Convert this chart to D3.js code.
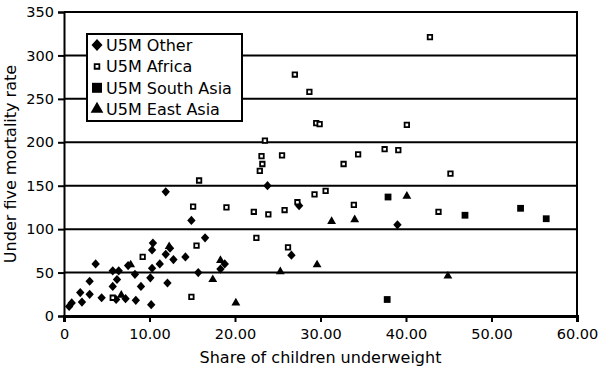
<!DOCTYPE html>
<html>
<head>
<meta charset="utf-8">
<script src="https://cdn.jsdelivr.net/npm/d3@7"></script>
<style>
  body { margin: 0; background: #fff; }
  text { font-family: "DejaVu Sans", sans-serif; fill: #000; }
</style>
</head>
<body>
<script>
// values: [share underweight, U5M rate]
const other = [
  [11.9, 143], [14.9, 110], [16.5, 90], [10.4, 84], [10.3, 76], [12.4, 78],
  [11.9, 71], [12.8, 65], [14.2, 68], [11.2, 60], [10.3, 55], [3.7, 60],
  [5.7, 52], [6.4, 52], [7.5, 58], [8.3, 48], [10.1, 44], [6.2, 42],
  [3.0, 40], [5.7, 34], [9.0, 34], [12.1, 38], [15.7, 50], [18.8, 60],
  [18.3, 54], [1.9, 27], [3.0, 25], [4.4, 21], [2.1, 16], [0.9, 15],
  [0.6, 11], [6.1, 19], [7.2, 20], [8.4, 18], [10.2, 13],
  [23.8, 150], [27.5, 127], [26.6, 70], [39.0, 105]
];
const africa = [
  [42.8, 321], [27.0, 278], [28.7, 258], [29.5, 222], [29.9, 221], [40.1, 220],
  [23.5, 202], [37.5, 192], [39.1, 191], [23.1, 184], [25.5, 185], [34.4, 186],
  [23.2, 175], [22.9, 167], [32.7, 175], [45.2, 164], [29.3, 140], [30.6, 144],
  [27.3, 131], [33.9, 128], [22.2, 120], [23.9, 117], [25.8, 122], [43.8, 120],
  [22.5, 90], [26.2, 79], [15.8, 156], [15.1, 126], [19.0, 125], [15.5, 81],
  [9.2, 68], [5.7, 21], [14.9, 22]
];
const southAsia = [
  [37.9, 137], [37.8, 19], [46.9, 116], [53.4, 124], [56.4, 112]
];
const eastAsia = [
  [12.3, 80], [7.8, 59], [18.3, 64], [17.4, 42], [20.1, 15], [6.7, 24],
  [40.1, 138], [31.3, 109], [34.0, 111], [29.6, 59], [25.3, 51], [44.9, 46]
];
const seriesNames = ["U5M Other", "U5M Africa", "U5M South Asia", "U5M East Asia"];
const xTicks = [0, 10, 20, 30, 40, 50, 60];
const yTicks = [0, 50, 100, 150, 200, 250, 300, 350];

const width = 599, height = 372;
const margin = { left: 64, right: 22, top: 12, bottom: 56 };

const svg = d3.select("body").append("svg")
  .attr("width", width)
  .attr("height", height);

const x = d3.scaleLinear().domain([0, 60]).range([margin.left, width - margin.right]);
const y = d3.scaleLinear().domain([0, 350]).range([height - margin.bottom, margin.top]);

// gridlines
svg.append("g")
  .selectAll("line")
  .data(yTicks.slice(1))
  .join("line")
  .attr("x1", x(0)).attr("x2", x(60))
  .attr("y1", d => y(d)).attr("y2", d => y(d))
  .attr("stroke", "#000").attr("stroke-width", 2);

// right border
svg.append("line")
  .attr("x1", x(60)).attr("x2", x(60))
  .attr("y1", y(350) - 1).attr("y2", y(0) + 1)
  .attr("stroke", "#000").attr("stroke-width", 2);

// axes
const xAxis = svg.append("g")
  .attr("transform", `translate(0,${y(0)})`)
  .call(d3.axisBottom(x).tickValues(xTicks).tickSize(6).tickPadding(7)
    .tickFormat(d => d === 0 ? "0" : d3.format(".2f")(d)));
const yAxis = svg.append("g")
  .attr("transform", `translate(${x(0)},0)`)
  .call(d3.axisLeft(y).tickValues(yTicks).tickSize(6).tickPadding(4));

[xAxis, yAxis].forEach(a => {
  a.select(".domain").attr("stroke", "#000").attr("stroke-width", 2);
  a.selectAll(".tick line").attr("stroke", "#000").attr("stroke-width", 2);
  a.selectAll(".tick text")
    .attr("font-size", 14.5)
    .attr("font-family", "'DejaVu Sans', sans-serif")
    .attr("fill", "#000");
});
xAxis.select(".domain").attr("stroke-width", 3);

// axis titles
svg.append("text")
  .attr("x", (x(0) + x(60)) / 2)
  .attr("y", 363)
  .attr("text-anchor", "middle")
  .attr("font-size", 16)
  .text("Share of children underweight");

svg.append("text")
  .attr("transform", `translate(16,${(y(0) + y(350)) / 2}) rotate(-90)`)
  .attr("text-anchor", "middle")
  .attr("font-size", 16)
  .text("Under five mortality rate");

// markers
const diamond = {
  draw(ctx, size) {
    const r = Math.sqrt(size) / 2;
    ctx.moveTo(0, -r * 1.1);
    ctx.lineTo(r, 0);
    ctx.lineTo(0, r * 1.1);
    ctx.lineTo(-r, 0);
    ctx.closePath();
  }
};
const shapes = [
  { sym: diamond, size: 70, legSize: 120, fill: "#000", stroke: "none" },
  { sym: d3.symbolSquare, size: 20, legSize: 22, fill: "#fff", stroke: "#000" },
  { sym: d3.symbolSquare, size: 46, legSize: 100, fill: "#000", stroke: "none" },
  { sym: d3.symbolTriangle, size: 34, legSize: 70, fill: "#000", stroke: "none" }
];
const allSeries = [other, africa, southAsia, eastAsia];

allSeries.forEach((data, i) => {
  const s = shapes[i];
  svg.append("g")
    .selectAll("path")
    .data(data)
    .join("path")
    .attr("transform", d => `translate(${x(d[0])},${y(d[1])})`)
    .attr("d", d3.symbol().type(s.sym).size(s.size))
    .attr("fill", s.fill)
    .attr("stroke", s.stroke)
    .attr("stroke-width", 1.8);
});

// legend
const legend = svg.append("g").attr("transform", "translate(87,34)");
legend.append("rect")
  .attr("width", 155).attr("height", 87)
  .attr("fill", "#fff").attr("stroke", "#000").attr("stroke-width", 2);

const row = legend.selectAll("g.item")
  .data(seriesNames)
  .join("g")
  .attr("class", "item")
  .attr("transform", (d, i) => `translate(0,${11 + i * 21.4})`);

row.append("path")
  .attr("transform", "translate(10,0)")
  .attr("d", (d, i) => d3.symbol().type(shapes[i].sym).size(shapes[i].legSize)())
  .attr("fill", (d, i) => shapes[i].fill)
  .attr("stroke", (d, i) => shapes[i].stroke)
  .attr("stroke-width", 1.8);

row.append("text")
  .attr("x", 19)
  .attr("y", 6)
  .attr("font-size", 16)
  .text(d => d);
</script>
</body>
</html>
